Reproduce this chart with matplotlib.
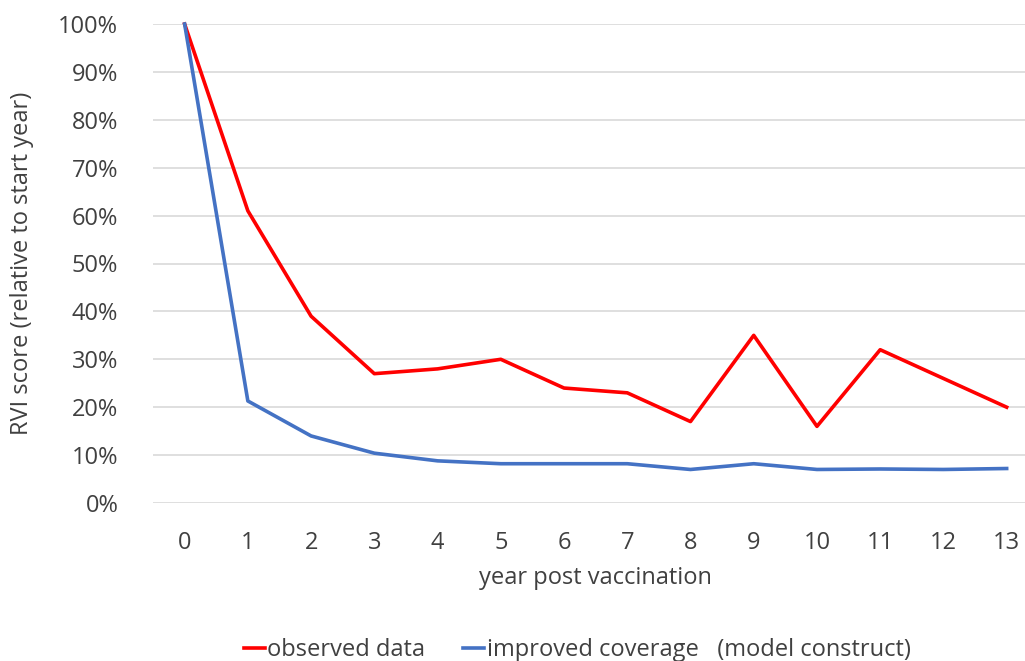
import numpy as np
import matplotlib.pyplot as plt
from matplotlib.ticker import PercentFormatter

plt.rcParams['font.family'] = ['Open Sans', 'DejaVu Sans']

years = list(range(14))
observed = [100, 61, 39, 27, 28, 30, 24, 23, 17, 35, 16, 32, 26, 20]
improved = [100, 21.3, 14, 10.4, 8.8, 8.2, 8.2, 8.2, 7, 8.2, 7, 7.1, 7, 7.2]

fig = plt.figure(figsize=(10.25, 6.61), dpi=100)
ax = fig.add_axes([153/1025, 1-503/661, 1-153/1025, (503-24)/661])

ax.plot(years, observed, color="#FF0000", lw=2.6, label="observed data", clip_on=False)
ax.plot(years, improved, color="#4472C4", lw=2.6, label="improved coverage   (model construct)", clip_on=False)

ax.set_ylim(0, 100)
ax.set_xlim(-0.5, 13.29)
ax.set_yticks(np.arange(0, 101, 10))
ax.yaxis.set_major_formatter(PercentFormatter(decimals=0))
ax.set_xticks(years)
ax.grid(axis="y", color="#D9D9D9", lw=1.2)
ax.set_axisbelow(True)
for s in ax.spines.values():
    s.set_visible(False)
ax.tick_params(length=0, labelsize=17, colors="#404040", pad=20)
ax.tick_params(axis="y", pad=25)

ax.set_xlabel("year post vaccination", fontsize=17, color="#404040")
ax.xaxis.set_label_coords((595-153)/(1025-153), -(578-503)/479)
ax.set_ylabel("RVI score (relative to start year)", fontsize=17, color="#404040")
ax.yaxis.set_label_coords(-(153-22)/(1025-153), (503-263)/479)
ax.xaxis.label.set_va("center")
ax.yaxis.label.set_va("center")

fig.legend(loc="center", bbox_to_anchor=(577/1025, 1-650/661), ncol=2, frameon=False,
           fontsize=17, handlelength=0.9, handletextpad=0.1, columnspacing=1.6,
           labelcolor="#404040")

fig.savefig("out.png", dpi=100)
